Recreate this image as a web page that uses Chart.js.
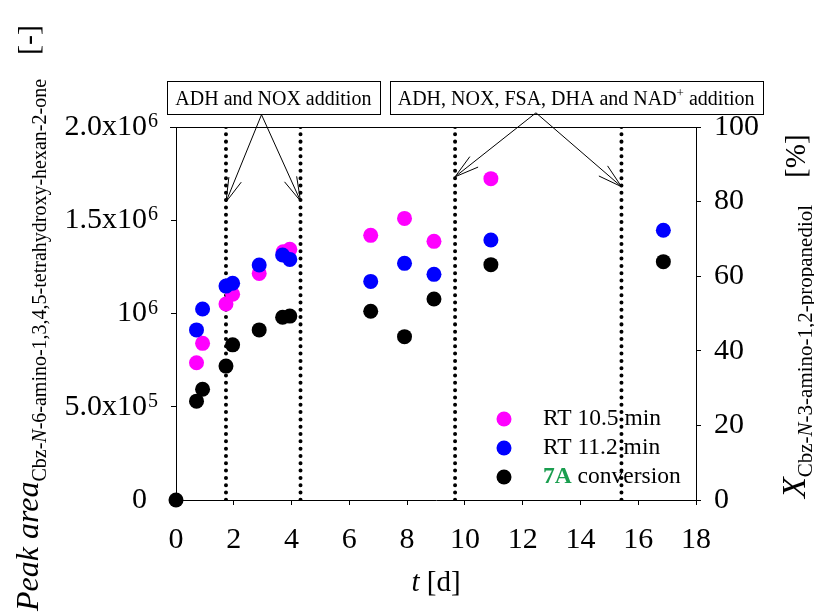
<!DOCTYPE html>
<html>
<head>
<meta charset="utf-8">
<script src="https://cdn.jsdelivr.net/npm/chart.js@4.4.0/dist/chart.umd.min.js"></script>
<style>
  html, body { margin: 0; padding: 0; background: #fff; }
  canvas { display: block; }
</style>
</head>
<body>
<canvas id="peakChart" width="814" height="612"></canvas>
<script>
// sampling times [d] and measured values
const daysRt105 = [0.71, 0.92, 1.73, 1.96, 2.88, 3.71, 3.94, 6.74, 7.91, 8.93, 10.9];
const peakRt105 = [736000, 840000, 1051000, 1103000, 1215000, 1331000, 1344000, 1419000, 1510000, 1387000, 1723000];

const daysRt112 = [0.71, 0.92, 1.73, 1.96, 2.88, 3.69, 3.94, 6.74, 7.91, 8.93, 10.9, 16.87];
const peakRt112 = [912000, 1024000, 1147000, 1162000, 1260000, 1314000, 1290000, 1172000, 1269000, 1210000, 1394000, 1446000];

const daysConv = [0, 0.71, 0.92, 1.73, 1.96, 2.88, 3.69, 3.94, 6.74, 7.91, 8.93, 10.9, 16.87];
const conversion7A = [0, 26.5, 29.7, 35.9, 41.6, 45.6, 49.0, 49.3, 50.6, 43.8, 53.9, 63.1, 63.9];

// days on which enzymes were added (dotted lines)
const additionDays = [1.73, 4.31, 9.66, 15.42];

// left axis tick labels: [mantissa, exponent]
const leftTickLabels = {
  0: ["0", ""],
  500000: ["5.0x10", "5"],
  1000000: ["10", "6"],
  1500000: ["1.5x10", "6"],
  2000000: ["2.0x10", "6"]
};

const legendItems = [
  { color: "#ff00ff", parts: [["RT 10.5 min", "#000", ""]] },
  { color: "#0000ff", parts: [["RT 11.2 min", "#000", ""]] },
  { color: "#000000", parts: [["7A", "#1a9e4f", "bold "], [" conversion", "#000", ""]] }
];

// annotation boxes: centre (t, peak area) and arrow targets
const notes = [
  {
    parts: [["ADH and NOX addition", ""]],
    center: [3.37, 2158000], width: 213,
    from: [2.96, 2066000],
    targets: [[1.73, 1598000], [4.31, 1603000]]
  },
  {
    parts: [["ADH, NOX, FSA, DHA and NAD", ""], ["+", "sup"], [" addition", ""]],
    center: [13.85, 2158000], width: 373,
    from: [12.46, 2076000],
    targets: [[9.66, 1733000], [15.42, 1680000]]
  }
];

const SERIF = "'Liberation Serif', 'Times New Roman', serif";

function toPoints(xs, ys) {
  return xs.map((x, i) => ({ x: x, y: ys[i] }));
}

function drawSegments(ctx, x, y, segs) {
  // draws text segments along the current x direction
  let pos = x;
  segs.forEach((s) => {
    if (s.gap) { pos += s.gap; return; }
    ctx.font = s.font;
    ctx.fillStyle = s.color || "#000";
    ctx.fillText(s.text, pos, y + (s.dy || 0));
    pos += ctx.measureText(s.text).width;
  });
  return pos - x;
}

function arrow(ctx, x0, y0, x1, y1) {
  ctx.beginPath();
  ctx.moveTo(x0, y0);
  ctx.lineTo(x1, y1);
  const ang = Math.atan2(y0 - y1, x0 - x1);
  const len = 25, spread = 0.27;
  ctx.moveTo(x1 + len * Math.cos(ang - spread), y1 + len * Math.sin(ang - spread));
  ctx.lineTo(x1, y1);
  ctx.lineTo(x1 + len * Math.cos(ang + spread), y1 + len * Math.sin(ang + spread));
  ctx.stroke();
}

const decorations = {
  id: "decorations",
  afterDraw(chart) {
    const ctx = chart.ctx;
    const area = chart.chartArea;
    const xs = chart.scales.x;
    const ys = chart.scales.y;
    ctx.save();

    // top frame line
    ctx.strokeStyle = "#000";
    ctx.lineWidth = 1;
    ctx.beginPath();
    ctx.moveTo(area.left - 6, area.top + 0.5);
    ctx.lineTo(area.right + 4, area.top + 0.5);
    ctx.stroke();

    // left tick labels with exponents
    ys.ticks.forEach((tick) => {
      const lab = leftTickLabels[tick.value];
      if (!lab) return;
      const py = ys.getPixelForValue(tick.value);
      ctx.fillStyle = "#000";
      ctx.textBaseline = "middle";
      ctx.textAlign = "right";
      ctx.font = "30px " + SERIF;
      ctx.fillText(lab[0], area.left - 29, py);
      ctx.textAlign = "left";
      ctx.textBaseline = "alphabetic";
      ctx.font = "20px " + SERIF;
      ctx.fillText(lab[1], area.left - 28, py);
    });

    // x axis title
    ctx.textAlign = "left";
    ctx.textBaseline = "alphabetic";
    ctx.font = "italic 29px " + SERIF;
    const tW = ctx.measureText("t").width;
    ctx.font = "29px " + SERIF;
    const dW = ctx.measureText(" [d]").width;
    const cx = (area.left + area.right) / 2 - (tW + dW) / 2;
    drawSegments(ctx, cx, 591, [
      { text: "t", font: "italic 29px " + SERIF },
      { text: " [d]", font: "29px " + SERIF }
    ]);

    // left axis title (rotated)
    ctx.save();
    ctx.translate(38, 611);
    ctx.rotate(-Math.PI / 2);
    drawSegments(ctx, 0, 0, [
      { text: "Peak area", font: "italic 32px " + SERIF },
      { text: "Cbz-", font: "20px " + SERIF, dy: 8 },
      { text: "N", font: "italic 20px " + SERIF, dy: 8 },
      { text: "-6-amino-1,3,4,5-tetrahydroxy-hexan-2-one", font: "20px " + SERIF, dy: 8 },
      { gap: 24 },
      { text: "[-]", font: "30px " + SERIF }
    ]);
    ctx.restore();

    // right axis title (rotated)
    ctx.save();
    ctx.translate(805, 498);
    ctx.rotate(-Math.PI / 2);
    drawSegments(ctx, 0, 0, [
      { text: "X", font: "italic 34px " + SERIF },
      { text: "Cbz-", font: "21px " + SERIF, dy: 7 },
      { text: "N", font: "italic 21px " + SERIF, dy: 7 },
      { text: "-3-amino-1,2-propanediol", font: "21px " + SERIF, dy: 7 },
      { gap: 27 },
      { text: "[%]", font: "29px " + SERIF }
    ]);
    ctx.restore();

    // annotation boxes and arrows
    notes.forEach((n) => {
      const bx = xs.getPixelForValue(n.center[0]);
      const by = ys.getPixelForValue(n.center[1]);
      const h = 33;
      ctx.fillStyle = "#fff";
      ctx.fillRect(bx - n.width / 2, by - h / 2, n.width, h);
      ctx.strokeStyle = "#000";
      ctx.lineWidth = 1;
      ctx.strokeRect(Math.round(bx - n.width / 2) + 0.5, Math.round(by - h / 2) + 0.5, n.width, h);
      const segs = n.parts.map((p) => p[1] === "sup"
        ? { text: p[0], font: "13px " + SERIF, dy: -8 }
        : { text: p[0], font: "20px " + SERIF });
      ctx.textAlign = "left";
      ctx.textBaseline = "alphabetic";
      let w = 0;
      segs.forEach((s) => { ctx.font = s.font; w += ctx.measureText(s.text).width; });
      drawSegments(ctx, bx - w / 2, by + 7, segs);

      const fx = xs.getPixelForValue(n.from[0]);
      const fy = ys.getPixelForValue(n.from[1]);
      n.targets.forEach((t) => {
        arrow(ctx, fx, fy, xs.getPixelForValue(t[0]), ys.getPixelForValue(t[1]));
      });
    });

    // legend
    legendItems.forEach((item, i) => {
      const ly = area.bottom - 81 + i * 29;
      ctx.beginPath();
      ctx.arc(area.right - 192, ly, 7.5, 0, Math.PI * 2);
      ctx.fillStyle = item.color;
      ctx.fill();
      ctx.textBaseline = "middle";
      ctx.textAlign = "left";
      drawSegments(ctx, area.right - 153, ly, item.parts.map((p) => ({
        text: p[0], color: p[1], font: p[2] + "23.5px " + SERIF
      })));
    });

    ctx.restore();
  }
};

const pointStyle = (color, order) => ({
  backgroundColor: color,
  borderColor: color,
  pointRadius: 7.5,
  pointHoverRadius: 7.5,
  borderWidth: 0,
  clip: false,
  order: order
});

const dottedLines = additionDays.map((d) => ({
  type: "line",
  data: [{ x: d, y: 2000000 }, { x: d, y: 0 }],
  yAxisID: "y",
  borderColor: "#000",
  borderWidth: 4,
  borderDash: [0.01, 7.3],
  borderCapStyle: "round",
  pointRadius: 0,
  fill: false,
  order: 5
}));

new Chart(document.getElementById("peakChart"), {
  type: "scatter",
  data: {
    datasets: [
      Object.assign({ label: "7A conversion", data: toPoints(daysConv, conversion7A), yAxisID: "y2" }, pointStyle("#000000", 0)),
      Object.assign({ label: "RT 11.2 min", data: toPoints(daysRt112, peakRt112), yAxisID: "y" }, pointStyle("#0000ff", 1)),
      Object.assign({ label: "RT 10.5 min", data: toPoints(daysRt105, peakRt105), yAxisID: "y" }, pointStyle("#ff00ff", 2))
    ].concat(dottedLines)
  },
  options: {
    responsive: false,
    animation: false,
    events: [],
    layout: { padding: { top: 127, left: 0, right: 0, bottom: 0 } },
    plugins: { legend: { display: false }, tooltip: { enabled: false } },
    scales: {
      x: {
        type: "linear",
        min: 0, max: 18,
        ticks: { stepSize: 2, color: "#000", font: { family: SERIF, size: 30 }, padding: 17 },
        grid: { drawOnChartArea: false, drawTicks: true, tickLength: 5, color: "#000" },
        border: { display: true, color: "#000", width: 1 },
        afterFit: (s) => { s.height = 112; }
      },
      y: {
        position: "left",
        min: 0, max: 2000000,
        ticks: { stepSize: 500000, display: false },
        grid: { drawOnChartArea: false, drawTicks: true, tickLength: 5, color: "#000" },
        border: { display: true, color: "#000", width: 1 },
        afterFit: (s) => { s.width = 176; }
      },
      y2: {
        position: "right",
        min: 0, max: 100,
        ticks: { stepSize: 20, color: "#000", font: { family: SERIF, size: 30 }, padding: 13 },
        grid: { drawOnChartArea: false, drawTicks: true, tickLength: 5, color: "#000" },
        border: { display: true, color: "#000", width: 1 },
        afterFit: (s) => { s.width = 118; }
      }
    }
  },
  plugins: [decorations]
});
</script>
</body>
</html>
